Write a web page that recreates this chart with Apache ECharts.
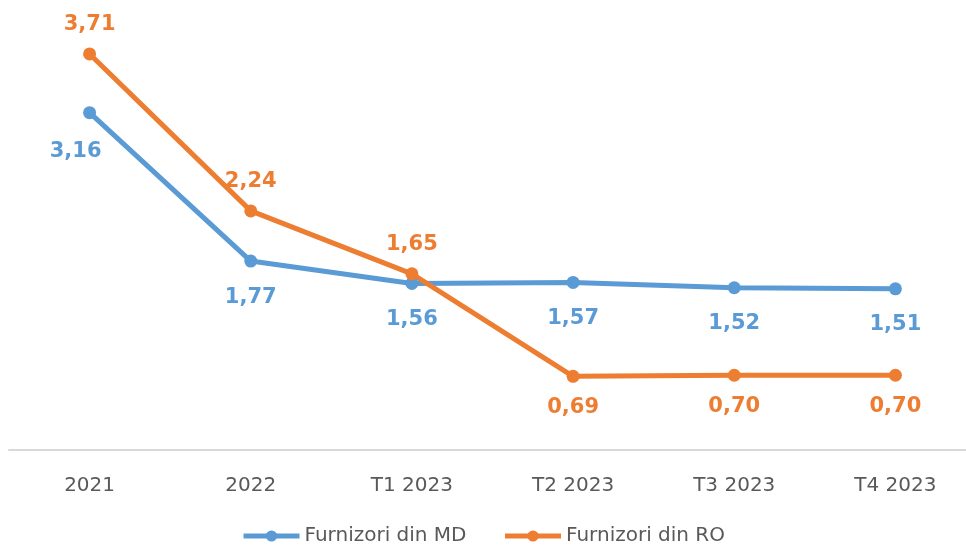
<!DOCTYPE html>
<html>
<head>
<meta charset="utf-8">
<script src="https://cdn.jsdelivr.net/npm/echarts@6/dist/echarts.min.js"></script>
<style>
  html, body { margin: 0; padding: 0; background: #fff; }
  #chart { width: 966px; height: 546px; }
</style>
</head>
<body>
<div id="chart"></div>
<script>
  // categorii si valori
  var categories = ['2021', '2022', 'T1 2023', 'T2 2023', 'T3 2023', 'T4 2023'];
  var mdValues = [3.16, 1.77, 1.56, 1.57, 1.52, 1.51];
  var roValues = [3.71, 2.24, 1.65, 0.69, 0.70, 0.70];
  var seriesNames = ['Furnizori din MD', 'Furnizori din RO'];

  var blue = '#5B9BD5';
  var orange = '#ED7D31';

  function fmt(p) {
    return p.value.toFixed(2).replace('.', ',');
  }

  var myChart = echarts.init(document.getElementById('chart'));

  // eticheta pentru 2021 (MD) e mutata putin la stanga
  var mdData = mdValues.map(function (v, i) {
    if (i === 0) return { value: v, label: { offset: [-14, 3] } };
    return v;
  });
  var roData = roValues.map(function (v, i) {
    if (i >= 3) return { value: v, label: { position: 'bottom', distance: 14 } };
    return v;
  });

  myChart.setOption({
    animation: false,
    grid: { left: 9, top: 23, width: 967, height: 427, containLabel: false, outerBoundsMode: 'none' },
    legend: {
      top: 521,
      left: 'center',
      itemWidth: 56,
      itemHeight: 14,
      itemGap: 36,
      lineStyle: { width: 5 },
      textStyle: { fontFamily: 'DejaVu Sans', fontSize: 20, color: '#595959' },
      data: seriesNames
    },
    xAxis: {
      type: 'category',
      data: categories,
      boundaryGap: true,
      axisTick: { show: false },
      axisLine: { lineStyle: { color: '#d9d9d9', width: 2 } },
      axisLabel: { color: '#595959', fontFamily: 'DejaVu Sans', fontSize: 20, margin: 26 }
    },
    yAxis: {
      type: 'value',
      min: 0,
      max: 4,
      show: false,
      splitLine: { show: false }
    },
    series: [
      {
        name: seriesNames[0],
        type: 'line',
        data: mdData,
        symbol: 'circle',
        symbolSize: 13,
        color: blue,
        lineStyle: { width: 5, color: blue },
        label: {
          show: true,
          position: 'bottom',
          distance: 19,
          formatter: fmt,
          color: blue,
          fontFamily: 'DejaVu Sans',
          fontWeight: 'bold',
          fontSize: 21
        }
      },
      {
        name: seriesNames[1],
        type: 'line',
        data: roData,
        symbol: 'circle',
        symbolSize: 13,
        color: orange,
        lineStyle: { width: 5, color: orange },
        label: {
          show: true,
          position: 'top',
          distance: 12,
          formatter: fmt,
          color: orange,
          fontFamily: 'DejaVu Sans',
          fontWeight: 'bold',
          fontSize: 21
        }
      }
    ]
  });
</script>
</body>
</html>
